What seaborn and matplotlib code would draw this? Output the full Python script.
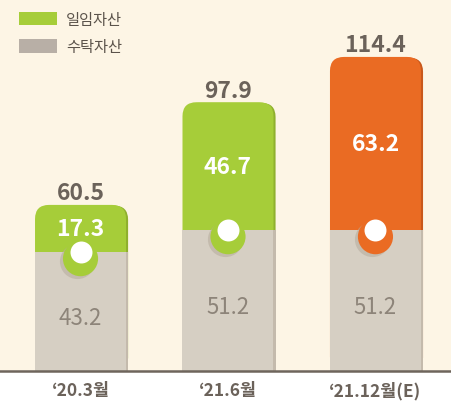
import seaborn as sns
import matplotlib.pyplot as plt
from matplotlib.patches import FancyBboxPatch, Patch
from matplotlib.transforms import offset_copy
import matplotlib.patheffects as pe

# data
dates = ["‘20.3월", "‘21.6월", "‘21.12월(E)"]
discretionary = [17.3, 46.7, 63.2]   # 일임자산
trust = [43.2, 51.2, 51.2]           # 수탁자산
totals = [60.5, 97.9, 114.4]

top_colors = ['#a6cd39', '#a6cd39', '#ea6b23']
shade_colors = ['#8fb02e', '#8fb02e', '#c9581b']
gray = '#d6cfc3'
bg = '#fdf5e5'
dark = '#6b625a'

sns.set_style('white')
plt.rcParams['font.family'] = ['Noto Sans CJK KR', 'DejaVu Sans']

fig = plt.figure(figsize=(4.52, 4.02), dpi=100)
ax = fig.add_axes([0, 30 / 402, 1, 372 / 402])
ax.set_facecolor(bg)

bw = 0.617
sns.barplot(x=dates, y=totals, hue=dates, palette=top_colors, saturation=1, legend=False,
            width=bw, ax=ax, zorder=2, linewidth=0)

# rounded tops: swap the rectangles for rounded boxes
for i, p in enumerate(list(ax.patches)):
    x0, y0, w, h = p.get_x(), p.get_y(), p.get_width(), p.get_height()
    p.set_visible(False)
    box = FancyBboxPatch((x0, y0), w, h, boxstyle='round,pad=0,rounding_size=0.095',
                         mutation_aspect=53.7, fc=top_colors[i], ec='none', lw=0, zorder=2)
    box.set_path_effects([pe.SimplePatchShadow(offset=(1.5, -0.5), shadow_rgbFace=shade_colors[i], alpha=1),
                          pe.Normal()])
    ax.add_patch(box)

sns.barplot(x=dates, y=trust, color=gray, saturation=1, width=bw, ax=ax, zorder=3, linewidth=0)
for p in ax.patches[-3:]:
    p.set_edgecolor('none')
    p.set_path_effects([pe.SimplePatchShadow(offset=(1.5, 0), shadow_rgbFace='#c4baac', alpha=1),
                        pe.Normal()])

xs = list(range(len(dates)))
# knobs on the boundary
ring = offset_copy(ax.transData, fig=fig, x=0, y=-4.5, units='points')
shadow = offset_copy(ax.transData, fig=fig, x=-2.5, y=-6.5, units='points')
ax.scatter(xs, trust, s=640, c='#b8ae9f', alpha=0.6, transform=shadow, zorder=4, linewidths=0)
ax.scatter(xs, trust, s=640, c=top_colors, transform=ring, zorder=5, linewidths=0)
ax.scatter(xs, trust, s=250, c='white', zorder=6, linewidths=0)

for i in xs:
    ax.annotate(f'{totals[i]}', (i, totals[i]), xytext=(0, 4), textcoords='offset points',
                ha='center', va='baseline', fontsize=16.5, fontweight='bold', color=dark)
    ax.text(i, trust[i] + discretionary[i] / 2, f'{discretionary[i]}', ha='center', va='center',
            fontsize=16.5, fontweight='bold', color='white', zorder=7)
    ax.annotate(f'{trust[i]}', (i, trust[i] / 2), xytext=(0, -4), textcoords='offset points',
                ha='center', va='center', fontsize=16, color='#8d8479', zorder=7)

ax.set_xlim(-0.546, 2.519)
ax.set_ylim(0, 135.5)
ax.set_yticks([])
ax.set_xlabel('')
ax.set_ylabel('')
for s in ['top', 'left', 'right']:
    ax.spines[s].set_visible(False)
ax.spines['bottom'].set_color('#6e655c')
ax.spines['bottom'].set_linewidth(1.8)
ax.spines['bottom'].set_zorder(8)
ax.tick_params(axis='x', length=0, pad=7, labelsize=12.5, labelcolor=dark)
for t in ax.get_xticklabels():
    t.set_fontweight('bold')

handles = [Patch(fc='#a6cd39', ec='none', label='일임자산'),
           Patch(fc='#b8afa6', ec='none', label='수탁자산')]
fig.legend(handles=handles, loc='upper left', bbox_to_anchor=(8 / 452, 1 - 1 / 402),
           frameon=False, fontsize=11, labelcolor='#5b534b', handlelength=2.5,
           handleheight=1.0, handletextpad=0.6, labelspacing=0.7, borderpad=0.2)

fig.savefig('out.png', dpi=100, facecolor='white')
